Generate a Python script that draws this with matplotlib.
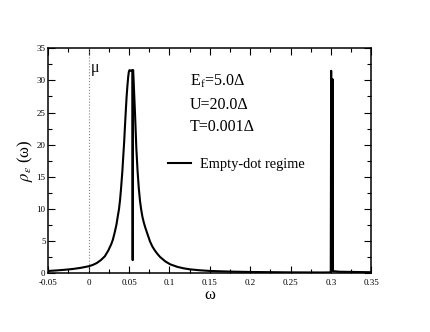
import matplotlib
matplotlib.use("Agg")
import matplotlib.pyplot as plt
from matplotlib.ticker import MultipleLocator

plt.rcParams["font.family"] = ["Liberation Serif", "DejaVu Serif"]
plt.rcParams["mathtext.fontset"] = "stix"

# spectral density
omega = [-0.05, -0.04, -0.03, -0.02, -0.01, 0.0, 0.005, 0.01, 0.015, 0.02,
         0.0243, 0.028, 0.03, 0.0326, 0.0345, 0.036, 0.0375, 0.0388, 0.040,
         0.0417, 0.043, 0.044, 0.045, 0.046, 0.047, 0.048, 0.049, 0.0497,
         0.0505, 0.052, 0.0535, 0.0543, 0.0545, 0.0547, 0.0551, 0.0556,
         0.0565, 0.0575, 0.059, 0.0605, 0.062, 0.0636, 0.065, 0.0665, 0.068,
         0.0698, 0.073, 0.076, 0.079, 0.082, 0.085, 0.0884, 0.095, 0.101,
         0.11, 0.118, 0.1255, 0.137, 0.15, 0.175, 0.2, 0.25, 0.29, 0.2998,
         0.3003, 0.3008, 0.3015, 0.302, 0.3025, 0.31, 0.35]
rho = [0.32, 0.40, 0.50, 0.62, 0.80, 1.05, 1.25, 1.55, 2.0, 2.6,
       3.5, 4.5, 5.2, 6.5, 7.6, 8.8, 9.9, 11.3, 13.0,
       15.8, 18.5, 20.5, 23.0, 25.3, 27.5, 29.2, 30.6, 31.3,
       31.6, 31.5, 31.6, 31.4, 2.0, 31.3, 31.6, 30.2,
       27.5, 24.5, 19.5, 16.0, 13.3, 11.2, 9.9, 8.8, 8.0,
       7.2, 6.0, 4.9, 4.1, 3.5, 3.0, 2.5, 1.8, 1.35,
       0.95, 0.72, 0.57, 0.43, 0.32, 0.22, 0.16, 0.1, 0.08, 0.1,
       31.5, 0.4, 0.4, 30.2, 0.3, 0.2, 0.12]

xticks = [-0.05, 0, 0.05, 0.1, 0.15, 0.2, 0.25, 0.3, 0.35]
xtick_labels = ["-0.05", "0", "0.05", "0.1", "0.15", "0.2", "0.25", "0.3", "0.35"]
yticks = [0, 5, 10, 15, 20, 25, 30, 35]

fig = plt.figure(figsize=(4.3, 3.32), dpi=100)
ax = fig.add_axes([0.1123, 0.1777, 0.7512, 0.6768])

ax.axvline(0, color="#888888", linestyle=":", linewidth=0.8)
ax.plot(omega, rho, color="black", linewidth=1.5, label="Empty-dot regime")

ax.set_xlim(-0.05, 0.35)
ax.set_ylim(0, 35)
ax.set_xticks(xticks)
ax.set_xticklabels(xtick_labels)
ax.set_yticks(yticks)
ax.xaxis.set_minor_locator(MultipleLocator(0.025))
ax.yaxis.set_minor_locator(MultipleLocator(2.5))
ax.tick_params(which="both", direction="in", top=True, right=True,
               labelsize=6.5)
ax.tick_params(axis="x", pad=4)
ax.tick_params(axis="y", pad=2)
ax.tick_params(which="major", length=5, width=0.8)
ax.tick_params(which="minor", length=3, width=0.8)
for s in ax.spines.values():
    s.set_linewidth(1.1)

ax.set_xlabel("ω", fontsize=12, labelpad=0)
ax.set_ylabel(r"$\rho_{\varepsilon}$ (ω)", fontsize=12, labelpad=1)

ax.text(0.002, 32.0, "μ", fontsize=11.5, va="center")
ax.text(0.1255, 29.8, r"E$_\mathregular{f}$=5.0Δ", fontsize=11.5, va="center")
ax.text(0.1255, 26.1, "U=20.0Δ", fontsize=11.5, va="center")
ax.text(0.1255, 22.7, "T=0.001Δ", fontsize=11.5, va="center")

ax.legend(loc="upper left", bbox_to_anchor=(0.33, 0.57), frameon=False,
          fontsize=10.4, handlelength=1.6, handletextpad=0.6)

fig.savefig("out.png", dpi=100)
